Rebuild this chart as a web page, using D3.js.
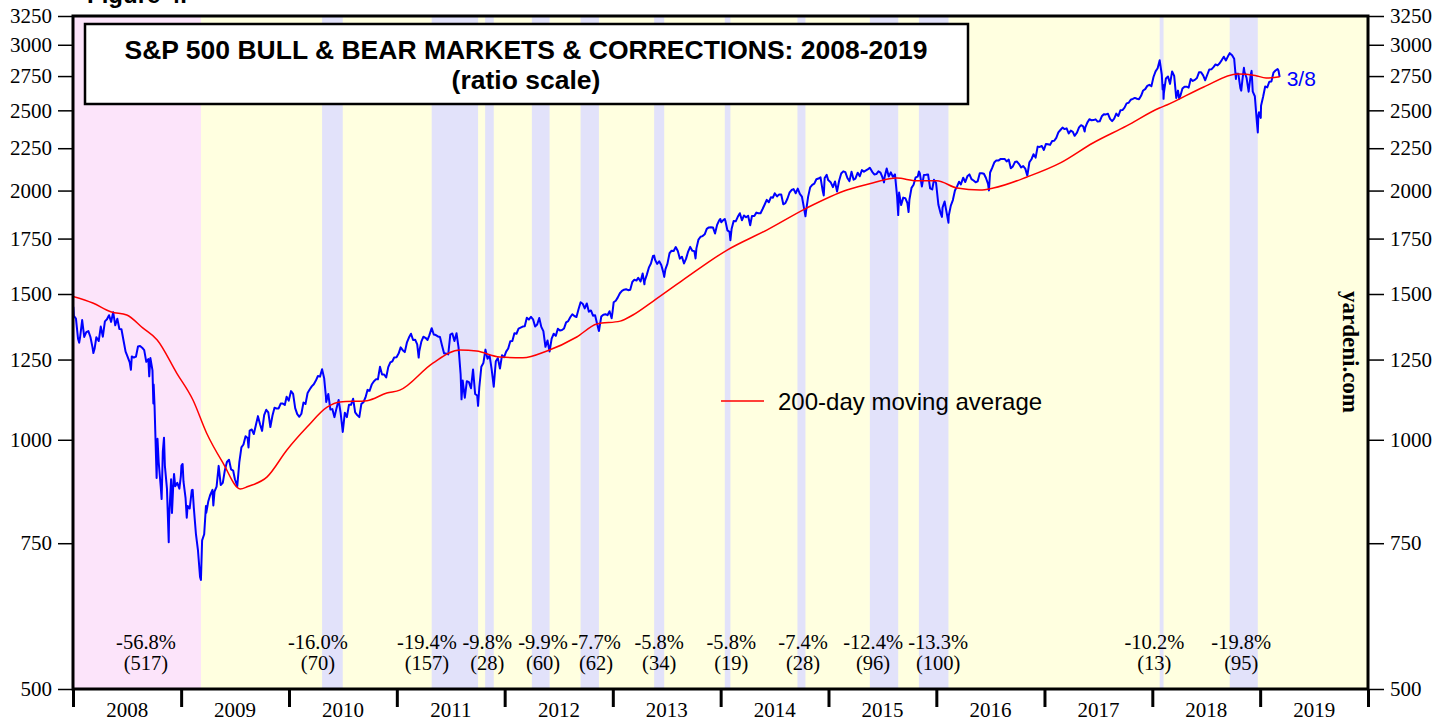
<html>
<script src="https://d3js.org/d3.v7.min.js"></script>
<style>
  body { margin: 0; background: #fff; }
  .serif { font-family: "Liberation Serif", "Times New Roman", serif; }
  .sans { font-family: "Liberation Sans", Arial, sans-serif; }
</style>
<body>
<svg class="chart" width="1450" height="721"></svg>
<script>
// plot frame
var margin = {top: 16, right: 82, bottom: 32, left: 73},
    W = 1450, H = 721;

// S&P 500 closes (month-day per year)
var spx2008 = [["01-02",1447],["01-04",1411],["01-11",1401],["01-18",1325],["01-22",1310],["01-25",1330],["02-01",1395],["02-08",1331],["02-15",1349],["02-22",1353],["02-29",1331],["03-07",1293],["03-10",1273],["03-14",1288],["03-20",1330],["03-28",1316],["04-04",1370],["04-11",1332],["04-18",1390],["04-25",1398],["05-02",1414],["05-09",1388],["05-16",1426],["05-23",1375],["05-30",1400],["06-06",1361],["06-13",1360],["06-20",1318],["06-27",1278],["07-03",1262],["07-11",1240],["07-15",1215],["07-18",1261],["07-25",1257],["08-01",1260],["08-08",1296],["08-15",1298],["08-22",1292],["08-29",1283],["09-05",1242],["09-12",1252],["09-15",1193],["09-19",1255],["09-26",1213],["09-29",1106],["09-30",1166],["10-03",1099],["10-10",899],["10-13",1003],["10-17",940],["10-24",877],["10-27",848],["10-31",968],["11-04",1006],["11-07",930],["11-14",873],["11-20",752],["11-21",800],["11-28",896],["12-01",816],["12-05",876],["12-08",909],["12-12",879],["12-19",887],["12-26",873],["12-31",903]];
var spx2009 = [["01-02",931],["01-06",935],["01-09",890],["01-16",850],["01-20",805],["01-23",832],["01-30",826],["02-06",869],["02-09",870],["02-13",827],["02-20",770],["02-27",735],["03-06",683],["03-09",677],["03-13",756],["03-20",769],["03-26",832],["03-27",816],["04-03",843],["04-09",857],["04-17",870],["04-20",833],["04-24",866],["05-01",878],["05-08",930],["05-15",882],["05-22",887],["05-29",919],["06-05",940],["06-12",946],["06-19",921],["06-26",918],["07-02",896],["07-10",879],["07-17",940],["07-24",979],["07-31",987],["08-07",1010],["08-14",1005],["08-17",979],["08-21",1026],["08-28",1029],["09-04",1016],["09-11",1042],["09-18",1068],["09-25",1044],["10-02",1025],["10-09",1071],["10-16",1087],["10-23",1079],["10-30",1036],["11-06",1069],["11-13",1093],["11-20",1091],["11-27",1091],["12-04",1106],["12-11",1106],["12-18",1102],["12-24",1127],["12-31",1115]];
var spx2010 = [["01-08",1145],["01-15",1136],["01-22",1092],["01-29",1074],["02-05",1066],["02-12",1075],["02-19",1109],["02-26",1105],["03-05",1139],["03-12",1150],["03-19",1160],["03-26",1167],["04-02",1179],["04-09",1194],["04-16",1192],["04-23",1217],["04-30",1187],["05-06",1128],["05-07",1111],["05-14",1136],["05-21",1088],["05-28",1089],["06-04",1065],["06-11",1092],["06-18",1117],["06-25",1076],["07-02",1022],["07-09",1078],["07-16",1065],["07-23",1102],["07-30",1102],["08-06",1121],["08-13",1079],["08-20",1071],["08-27",1065],["09-03",1105],["09-10",1110],["09-17",1125],["09-24",1149],["10-01",1146],["10-08",1166],["10-15",1176],["10-22",1183],["10-29",1183],["11-05",1225],["11-12",1199],["11-19",1199],["11-26",1189],["12-03",1224],["12-10",1240],["12-17",1244],["12-23",1257],["12-31",1258]];
var spx2011 = [["01-07",1271],["01-14",1293],["01-21",1283],["01-28",1276],["02-04",1310],["02-11",1329],["02-18",1343],["02-25",1320],["03-04",1321],["03-11",1304],["03-16",1257],["03-18",1279],["03-25",1314],["04-01",1332],["04-08",1328],["04-15",1320],["04-21",1337],["04-29",1364],["05-06",1340],["05-13",1338],["05-20",1333],["05-27",1331],["06-03",1300],["06-10",1271],["06-17",1271],["06-24",1268],["07-01",1340],["07-08",1344],["07-15",1316],["07-22",1345],["07-29",1292],["08-05",1199],["08-08",1119],["08-12",1179],["08-19",1124],["08-26",1177],["09-02",1174],["09-09",1154],["09-16",1216],["09-23",1136],["09-30",1131],["10-03",1099],["10-07",1155],["10-14",1225],["10-21",1238],["10-28",1285],["11-04",1253],["11-11",1264],["11-18",1216],["11-25",1159],["12-02",1244],["12-09",1255],["12-16",1219],["12-23",1265],["12-30",1258]];
var spx2012 = [["01-06",1278],["01-13",1289],["01-20",1315],["01-27",1316],["02-03",1345],["02-10",1343],["02-17",1362],["02-24",1366],["03-02",1370],["03-09",1371],["03-16",1404],["03-23",1397],["03-30",1408],["04-06",1398],["04-13",1370],["04-20",1378],["04-27",1403],["05-04",1369],["05-11",1353],["05-18",1295],["05-25",1318],["06-01",1278],["06-08",1325],["06-15",1343],["06-22",1335],["06-29",1362],["07-06",1355],["07-13",1357],["07-20",1363],["07-27",1386],["08-03",1391],["08-10",1406],["08-17",1418],["08-24",1411],["08-31",1407],["09-07",1438],["09-14",1466],["09-21",1460],["09-28",1441],["10-05",1461],["10-12",1428],["10-19",1433],["10-26",1412],["11-02",1414],["11-09",1380],["11-15",1353],["11-16",1360],["11-23",1409],["11-30",1416],["12-07",1418],["12-14",1414],["12-21",1430],["12-28",1402],["12-31",1426]];
var spx2013 = [["01-04",1466],["01-11",1472],["01-18",1486],["01-25",1503],["02-01",1513],["02-08",1518],["02-15",1520],["02-22",1516],["03-01",1518],["03-08",1551],["03-15",1561],["03-22",1557],["03-28",1569],["04-05",1553],["04-12",1588],["04-18",1541],["04-19",1555],["04-26",1582],["05-03",1614],["05-10",1633],["05-17",1667],["05-21",1669],["05-24",1650],["05-31",1631],["06-07",1643],["06-14",1626],["06-21",1593],["06-24",1573],["06-28",1606],["07-05",1632],["07-12",1680],["07-19",1692],["07-26",1691],["08-02",1709],["08-09",1691],["08-16",1655],["08-23",1664],["08-30",1633],["09-06",1655],["09-13",1688],["09-20",1710],["09-27",1692],["10-04",1690],["10-08",1656],["10-11",1703],["10-18",1745],["10-25",1759],["11-01",1762],["11-08",1771],["11-15",1798],["11-22",1805],["11-29",1806],["12-06",1805],["12-13",1775],["12-20",1818],["12-27",1841],["12-31",1848]];
var spx2014 = [["01-03",1831],["01-10",1842],["01-15",1848],["01-17",1839],["01-24",1790],["01-31",1783],["02-03",1742],["02-07",1797],["02-14",1838],["02-21",1836],["02-28",1859],["03-07",1878],["03-14",1841],["03-21",1866],["03-28",1857],["04-04",1865],["04-11",1816],["04-17",1864],["04-25",1863],["05-02",1881],["05-09",1878],["05-16",1878],["05-23",1900],["05-30",1924],["06-06",1949],["06-13",1936],["06-20",1963],["06-27",1961],["07-03",1985],["07-11",1968],["07-18",1978],["07-25",1978],["08-01",1925],["08-08",1931],["08-15",1955],["08-22",1988],["08-29",2003],["09-05",2008],["09-12",1985],["09-19",2011],["09-26",1982],["10-03",1967],["10-10",1906],["10-15",1862],["10-17",1887],["10-24",1965],["10-31",2018],["11-07",2032],["11-14",2039],["11-21",2064],["11-28",2068],["12-05",2075],["12-12",2002],["12-16",1973],["12-19",2071],["12-26",2089],["12-31",2059]];
var spx2015 = [["01-09",2045],["01-16",2019],["01-23",2051],["01-30",1995],["02-06",2055],["02-13",2097],["02-20",2110],["02-27",2105],["03-06",2071],["03-13",2053],["03-20",2108],["03-27",2061],["04-02",2067],["04-10",2102],["04-17",2081],["04-24",2117],["05-01",2108],["05-08",2116],["05-15",2123],["05-21",2131],["05-29",2107],["06-05",2092],["06-12",2094],["06-19",2110],["06-26",2102],["07-02",2077],["07-08",2046],["07-10",2077],["07-17",2127],["07-24",2080],["07-31",2104],["08-07",2078],["08-14",2092],["08-21",1971],["08-24",1893],["08-25",1868],["08-28",1989],["09-04",1921],["09-11",1961],["09-18",1958],["09-25",1932],["09-29",1884],["10-02",1951],["10-09",2015],["10-16",2033],["10-23",2075],["10-30",2079],["11-03",2109],["11-06",2099],["11-13",2023],["11-20",2089],["11-27",2090],["12-04",2092],["12-11",2012],["12-18",2006],["12-24",2061],["12-31",2044]];
var spx2016 = [["01-08",1922],["01-15",1880],["01-20",1859],["01-22",1907],["01-29",1940],["02-05",1880],["02-11",1829],["02-12",1865],["02-19",1918],["02-26",1948],["03-04",2000],["03-11",2022],["03-18",2050],["03-24",2035],["04-01",2073],["04-08",2048],["04-15",2081],["04-22",2092],["04-29",2065],["05-06",2057],["05-13",2047],["05-20",2052],["05-27",2099],["06-03",2099],["06-10",2096],["06-17",2071],["06-24",2037],["06-27",2001],["07-01",2103],["07-08",2130],["07-15",2162],["07-22",2175],["07-29",2174],["08-05",2183],["08-12",2184],["08-19",2184],["08-26",2169],["09-02",2180],["09-09",2128],["09-16",2139],["09-23",2165],["09-30",2168],["10-07",2153],["10-14",2133],["10-21",2141],["10-28",2126],["11-04",2085],["11-11",2164],["11-18",2182],["11-25",2213],["12-02",2192],["12-09",2260],["12-16",2258],["12-23",2264],["12-30",2239]];
var spx2017 = [["01-06",2277],["01-13",2275],["01-20",2271],["01-27",2295],["02-03",2297],["02-10",2316],["02-17",2351],["02-24",2367],["03-03",2383],["03-10",2373],["03-17",2378],["03-24",2344],["03-31",2363],["04-07",2355],["04-13",2329],["04-21",2349],["04-28",2384],["05-05",2399],["05-12",2391],["05-17",2357],["05-19",2382],["05-26",2416],["06-02",2439],["06-09",2432],["06-16",2433],["06-23",2438],["06-30",2423],["07-07",2425],["07-14",2459],["07-21",2473],["07-28",2472],["08-04",2476],["08-11",2441],["08-18",2426],["08-25",2443],["09-01",2477],["09-08",2461],["09-15",2500],["09-22",2502],["09-29",2519],["10-06",2549],["10-13",2553],["10-20",2575],["10-27",2581],["11-03",2588],["11-10",2582],["11-17",2579],["11-24",2603],["12-01",2642],["12-08",2652],["12-15",2676],["12-22",2684],["12-29",2674]];
var spx2018 = [["01-05",2743],["01-12",2786],["01-19",2810],["01-26",2873],["02-02",2762],["02-05",2649],["02-07",2682],["02-08",2581],["02-09",2620],["02-16",2732],["02-23",2747],["03-02",2691],["03-09",2786],["03-16",2752],["03-23",2588],["03-29",2641],["04-02",2582],["04-06",2604],["04-13",2656],["04-20",2670],["04-27",2670],["05-04",2663],["05-11",2728],["05-18",2713],["05-25",2721],["06-01",2735],["06-08",2779],["06-15",2780],["06-22",2755],["06-29",2718],["07-06",2760],["07-13",2801],["07-20",2802],["07-27",2819],["08-03",2840],["08-10",2833],["08-17",2850],["08-24",2875],["08-31",2902],["09-07",2872],["09-14",2905],["09-20",2931],["09-28",2914],["10-05",2886],["10-11",2728],["10-12",2767],["10-19",2768],["10-26",2659],["10-29",2641],["11-02",2723],["11-07",2814],["11-09",2781],["11-16",2736],["11-23",2633],["11-30",2760],["12-03",2790],["12-07",2633],["12-14",2600],["12-21",2417],["12-24",2351],["12-26",2467],["12-28",2486]];
var spx2019 = [["01-03",2448],["01-04",2532],["01-11",2596],["01-18",2671],["01-25",2665],["02-01",2707],["02-08",2708],["02-15",2776],["02-22",2793],["03-01",2804],["03-04",2793],["03-08",2743]];

// 200-day moving average
var maDates  = ["2008-01-01","2008-03-08","2008-05-10","2008-07-01","2008-08-24","2008-10-12","2008-12-17","2009-02-10","2009-03-28","2009-05-23","2009-07-20","2009-08-15","2009-10-19","2009-12-25","2010-03-03","2010-05-10","2010-06-23","2010-09-22","2010-11-28","2011-01-11","2011-05-03","2011-08-03","2011-09-28","2011-12-15","2012-03-03","2012-05-23","2012-09-01","2012-11-08","2013-01-26","2013-03-10","2013-05-17","2013-08-27","2014-01-23","2014-06-06","2014-10-19","2015-03-04","2015-05-30","2015-08-20","2015-10-27","2016-01-03","2016-03-11","2016-05-28","2016-07-12","2016-11-03","2017-02-24","2017-06-14","2017-10-06","2018-01-25","2018-02-19","2018-06-24","2018-10-17","2018-12-15","2019-01-21","2019-03-08"];
var maValues = [1490,1463,1427,1415,1365,1320,1204,1117,1019,937,872,878,902,972,1036,1095,1111,1115,1139,1148,1238,1284,1280,1259,1256,1280,1331,1380,1391,1415,1470,1560,1695,1792,1905,2003,2043,2071,2055,2055,2014,2003,2014,2077,2160,2283,2394,2516,2537,2668,2766,2755,2735,2745];

// bear market and corrections
var bearStart = "2007-10-09", bearEnd = "2009-03-09";
var corrStarts = ["2010-04-23","2011-04-29","2011-10-27","2012-04-02","2012-09-14","2013-05-21","2014-01-15","2014-09-18","2015-05-21","2015-11-03","2018-01-26","2018-09-20"];
var corrEnds   = ["2010-07-02","2011-10-03","2011-11-25","2012-06-01","2012-11-15","2013-06-24","2014-02-03","2014-10-15","2015-08-25","2016-02-11","2018-02-08","2018-12-24"];

// decline labels: percent, (days), and where they sit
var dropPct   = ["-56.8%","-16.0%","-19.4%","-9.8%","-9.9%","-7.7%","-5.8%","-5.8%","-7.4%","-12.4%","-13.3%","-10.2%","-19.8%"];
var dropDays  = ["(517)","(70)","(157)","(28)","(60)","(62)","(34)","(19)","(28)","(96)","(100)","(13)","(95)"];
var dropAt    = ["2008-09-04","2010-04-09","2011-04-13","2011-11-03","2012-05-10","2012-11-05","2013-06-07","2014-02-06","2014-10-07","2015-06-01","2016-01-07","2018-01-08","2018-10-29"];

var yTicks = [500,750,1000,1250,1500,1750,2000,2250,2500,2750,3000,3250];
var years = [2008,2009,2010,2011,2012,2013,2014,2015,2016,2017,2018,2019];

var parse = d3.timeParse("%Y-%m-%d");
var spx = [];
[[2008,spx2008],[2009,spx2009],[2010,spx2010],[2011,spx2011],[2012,spx2012],[2013,spx2013],[2014,spx2014],[2015,spx2015],[2016,spx2016],[2017,spx2017],[2018,spx2018],[2019,spx2019]]
  .forEach(function(p){ p[1].forEach(function(d){ spx.push({date: parse(p[0] + "-" + d[0]), v: d[1]}); }); });
var ma = maDates.map(function(d,i){ return {date: parse(d), v: maValues[i]}; });

var x = d3.scaleTime().domain([new Date(2008,0,1), new Date(2020,0,1)]).range([margin.left, W - margin.right]);
var y = d3.scaleLog().domain([500,3250]).range([H - margin.bottom, margin.top]);

var svg = d3.select(".chart");
var pw = x.range()[1] - x.range()[0], ph = y.range()[0] - y.range()[1];

svg.append("defs").append("clipPath").attr("id","plot")
  .append("rect").attr("x",margin.left).attr("y",margin.top).attr("width",pw).attr("height",ph);

var g = svg.append("g").attr("clip-path","url(#plot)");

// backgrounds
g.append("rect").attr("x",margin.left).attr("y",margin.top).attr("width",pw).attr("height",ph).attr("fill","#ffffe0");
g.append("rect")
  .attr("x",x(parse(bearStart))).attr("y",margin.top)
  .attr("width",x(parse(bearEnd)) - x(parse(bearStart))).attr("height",ph)
  .attr("fill","#fce4fa");
g.selectAll(".corr").data(corrStarts).enter().append("rect")
  .attr("x",function(d){ return x(parse(d)); })
  .attr("y",margin.top)
  .attr("width",function(d,i){ return x(parse(corrEnds[i])) - x(parse(d)); })
  .attr("height",ph)
  .attr("fill","#e2e2fa");

// decline labels
g.selectAll(".pct").data(dropPct).enter().append("text")
  .attr("class","serif").attr("text-anchor","middle").attr("font-size",20.5)
  .attr("x",function(d,i){ return x(parse(dropAt[i])); }).attr("y",649)
  .text(function(d){ return d; });
g.selectAll(".days").data(dropDays).enter().append("text")
  .attr("class","serif").attr("text-anchor","middle").attr("font-size",20.5)
  .attr("x",function(d,i){ return x(parse(dropAt[i])); }).attr("y",670)
  .text(function(d){ return d; });

// S&P line and moving average
g.append("path").datum(spx)
  .attr("fill","none").attr("stroke","#0000ff").attr("stroke-width",2).attr("stroke-linejoin","round")
  .attr("d", d3.line().x(function(d){ return x(d.date); }).y(function(d){ return y(d.v); }));
g.append("path").datum(ma)
  .attr("fill","none").attr("stroke","#ff0000").attr("stroke-width",1.5)
  .attr("d", d3.line().curve(d3.curveMonotoneX).x(function(d){ return x(d.date); }).y(function(d){ return y(d.v); }));

// last value tag
var last = spx[spx.length - 1];
svg.append("text").attr("class","sans").attr("font-size",21).attr("fill","#0000ff")
  .attr("x", x(last.date) + 7).attr("y", y(last.v) + 9)
  .text(d3.timeFormat("%-m/%-d")(last.date));

// legend
svg.append("line").attr("x1",721).attr("x2",764).attr("y1",401).attr("y2",401).attr("stroke","#ff0000").attr("stroke-width",1.5);
svg.append("text").attr("class","sans").attr("font-size",24).attr("x",778).attr("y",410).text("200-day moving average");

// source
svg.append("text").attr("class","serif").attr("font-size",23).attr("font-weight","bold")
  .attr("text-anchor","middle").attr("transform","translate(1343,352) rotate(90)")
  .text("yardeni.com");

// title box
svg.append("rect").attr("x",85).attr("y",24).attr("width",883).attr("height",80)
  .attr("fill","#fff").attr("stroke","#000").attr("stroke-width",2.5);
svg.append("text").attr("class","sans").attr("font-weight","bold").attr("font-size",26.5)
  .attr("text-anchor","middle").attr("x",526).attr("y",59)
  .text("S&P 500 BULL & BEAR MARKETS & CORRECTIONS: 2008-2019");
svg.append("text").attr("class","sans").attr("font-weight","bold").attr("font-size",26.5)
  .attr("text-anchor","middle").attr("x",526).attr("y",89)
  .text("(ratio scale)");
svg.append("text").attr("class","sans").attr("font-weight","bold").attr("font-size",24)
  .attr("x",87).attr("y",3).text("Figure 4.");

// axes
var yl = svg.append("g").attr("transform","translate(" + margin.left + ",0)")
  .call(d3.axisLeft(y).tickValues(yTicks).tickFormat(d3.format("d")).tickSize(15).tickPadding(6));
var yr = svg.append("g").attr("transform","translate(" + (W - margin.right) + ",0)")
  .call(d3.axisRight(y).tickValues(yTicks).tickFormat(d3.format("d")).tickSize(16).tickPadding(6));
[yl, yr].forEach(function(a){
  a.select(".domain").remove();
  a.selectAll("line").attr("stroke-width",1.5);
  a.selectAll("text").attr("class","serif").attr("font-size",21).attr("fill","#000");
});

var yearTicks = years.concat([2020]).map(function(yr){ return new Date(yr,0,1); });
var xt = svg.append("g").attr("transform","translate(0," + (H - margin.bottom) + ")")
  .call(d3.axisBottom(x).tickValues(yearTicks).tickFormat("").tickSize(18));
xt.select(".domain").remove();
xt.selectAll("line").attr("stroke-width",3);

var xl = svg.append("g").attr("transform","translate(0," + (H - margin.bottom) + ")")
  .call(d3.axisBottom(x).tickValues(years.map(function(yr){ return new Date(yr,6,1); }))
    .tickFormat(d3.timeFormat("%Y")).tickSize(0).tickPadding(13));
xl.select(".domain").remove();
xl.selectAll("text").attr("class","serif").attr("font-size",21).attr("fill","#000");

// frame
svg.append("rect").attr("x",margin.left).attr("y",margin.top).attr("width",pw).attr("height",ph)
  .attr("fill","none").attr("stroke","#000").attr("stroke-width",3);
</script>
</body>
</html>
